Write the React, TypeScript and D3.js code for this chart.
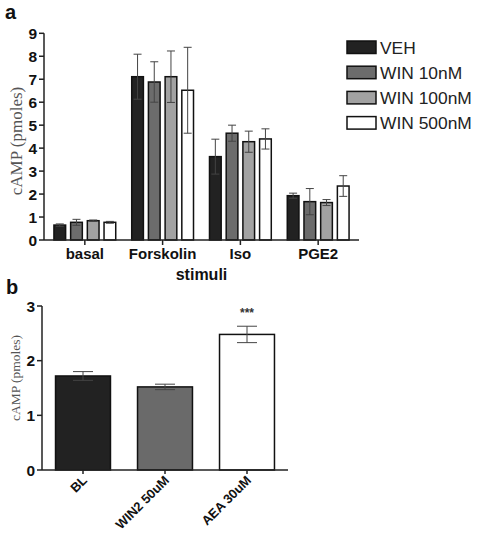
import React from "react";
import * as d3 from "d3";

const categories = ["basal", "Forskolin", "Iso", "PGE2"];
const seriesNames = ["VEH", "WIN 10nM", "WIN 100nM", "WIN 500nM"];
const vehMeans = [0.65, 7.11, 3.63, 1.93];
const win10Means = [0.77, 6.88, 4.65, 1.67];
const win100Means = [0.84, 7.11, 4.28, 1.63];
const win500Means = [0.77, 6.52, 4.4, 2.35];
const vehErr = [0.05, 0.98, 0.76, 0.11];
const win10Err = [0.13, 0.88, 0.35, 0.57];
const win100Err = [0.03, 1.12, 0.46, 0.13];
const win500Err = [0.04, 1.87, 0.44, 0.45];
const aTicks = [0, 1, 2, 3, 4, 5, 6, 7, 8, 9];

const bGroups = ["BL", "WIN2 50uM", "AEA 30uM"];
const bMeans = [1.72, 1.52, 2.48];
const bErr = [0.08, 0.05, 0.15];
const bTicks = [0, 1, 2, 3];

const seriesColors = ["#222222", "#6c6c6c", "#a2a2a2", "#ffffff"];
const bColors = ["#222222", "#6a6a6a", "#ffffff"];

const SANS = "'Liberation Sans', Arial, sans-serif";
const SERIF = "'Liberation Serif', 'Times New Roman', serif";

export default function App() {
  const means = [vehMeans, win10Means, win100Means, win500Means];
  const errs = [vehErr, win10Err, win100Err, win500Err];

  // Panel a scales
  const ax0 = 44, ax1 = 359;
  const ya = d3.scaleLinear().domain([0, 9]).range([240, 33.3]);
  const xa = d3.scalePoint<string>().domain(categories).range([ax0, ax1]).padding(0.525);
  const xin = d3.scaleBand<string>().domain(seriesNames).range([-33.4, 33.4]).paddingInner(0.3).paddingOuter(0.15);

  // Panel b scales
  const bx0 = 42, bx1 = 288;
  const yb = d3.scaleLinear().domain([0, 3]).range([470, 306]);
  const xb = d3.scaleBand<string>().domain(bGroups).range([bx0, bx1]).paddingInner(0.33).paddingOuter(0.165);

  const capA = 4;
  const capB = 10;

  return (
    <svg width={478} height={536} style={{ position: "absolute", left: 0, top: 0, background: "#fff" }}>
      {/* Panel a */}
      <text x={5} y={19} fontFamily={SANS} fontWeight="bold" fontSize={20} fill="#111">a</text>
      {categories.map((c, ci) =>
        seriesNames.map((s, si) => {
          const cx = (xa(c) as number) + (xin(s) as number);
          const w = xin.bandwidth();
          const m = means[si][ci];
          const e = errs[si][ci];
          const mid = cx + w / 2;
          return (
            <g key={c + s}>
              <rect x={cx} y={ya(m)} width={w} height={ya(0) - ya(m)} fill={seriesColors[si]} stroke="#111" strokeWidth={1.5} />
              <line x1={mid} x2={mid} y1={ya(m + e)} y2={ya(m - e)} stroke="#444" strokeWidth={1} />
              <line x1={mid - capA} x2={mid + capA} y1={ya(m + e)} y2={ya(m + e)} stroke="#444" strokeWidth={1} />
              <line x1={mid - capA} x2={mid + capA} y1={ya(m - e)} y2={ya(m - e)} stroke="#444" strokeWidth={1} />
            </g>
          );
        })
      )}
      <line x1={ax0} x2={ax0} y1={ya(9)} y2={ya(0)} stroke="#222" strokeWidth={1.5} />
      <line x1={ax0} x2={ax1} y1={ya(0)} y2={ya(0)} stroke="#222" strokeWidth={1.5} />
      {aTicks.map((t) => (
        <g key={t}>
          <line x1={ax0 - 5} x2={ax0} y1={ya(t)} y2={ya(t)} stroke="#222" strokeWidth={1.5} />
          <text x={ax0 - 7} y={ya(t)} dy="0.36em" textAnchor="end" fontFamily={SANS} fontWeight="bold" fontSize={15.5} fill="#111">{t}</text>
        </g>
      ))}
      {categories.map((c) => (
        <g key={c}>
          <line x1={xa(c)} x2={xa(c)} y1={ya(0)} y2={ya(0) + 5} stroke="#222" strokeWidth={1.5} />
          <text x={xa(c)} y={259} textAnchor="middle" fontFamily={SANS} fontWeight="bold" fontSize={15} fill="#111">{c}</text>
        </g>
      ))}
      <text x={(ax0 + ax1) / 2} y={280} textAnchor="middle" fontFamily={SANS} fontWeight="bold" fontSize={16} fill="#111">stimuli</text>
      <text transform={`translate(22,141) rotate(-90)`} textAnchor="middle" fontFamily={SERIF} fontSize={17} fill="#555">cAMP (pmoles)</text>

      {/* Legend */}
      {seriesNames.map((s, i) => (
        <g key={s} transform={`translate(347,${41 + i * 25.2})`}>
          <rect x={0} y={0} width={29} height={12.5} fill={seriesColors[i]} stroke="#111" strokeWidth={1.5} />
          <text x={33} y={12.8} fontFamily={SANS} fontSize={17.4} fill="#222">{s}</text>
        </g>
      ))}

      {/* Panel b */}
      <text x={6} y={294} fontFamily={SANS} fontWeight="bold" fontSize={20} fill="#111">b</text>
      {bGroups.map((g, i) => {
        const x = xb(g) as number;
        const w = xb.bandwidth();
        const mid = x + w / 2;
        const m = bMeans[i];
        const e = bErr[i];
        return (
          <g key={g}>
            <rect x={x} y={yb(m)} width={w} height={yb(0) - yb(m)} fill={bColors[i]} stroke="#111" strokeWidth={1.5} />
            <line x1={mid} x2={mid} y1={yb(m + e)} y2={yb(m - e)} stroke="#444" strokeWidth={1} />
            <line x1={mid - capB} x2={mid + capB} y1={yb(m + e)} y2={yb(m + e)} stroke="#444" strokeWidth={1} />
            <line x1={mid - capB} x2={mid + capB} y1={yb(m - e)} y2={yb(m - e)} stroke="#444" strokeWidth={1} />
          </g>
        );
      })}
      <line x1={bx0} x2={bx0} y1={yb(3)} y2={yb(0)} stroke="#222" strokeWidth={1.5} />
      <line x1={bx0} x2={bx1} y1={yb(0)} y2={yb(0)} stroke="#222" strokeWidth={1.5} />
      {bTicks.map((t) => (
        <g key={t}>
          <line x1={bx0 - 5} x2={bx0} y1={yb(t)} y2={yb(t)} stroke="#222" strokeWidth={1.5} />
          <text x={bx0 - 7} y={yb(t)} dy="0.36em" textAnchor="end" fontFamily={SANS} fontWeight="bold" fontSize={15.5} fill="#111">{t}</text>
        </g>
      ))}
      {bGroups.map((g) => {
        const cx = (xb(g) as number) + xb.bandwidth() / 2;
        return (
          <g key={g}>
            <line x1={cx} x2={cx} y1={yb(0)} y2={yb(0) + 4} stroke="#222" strokeWidth={1.5} />
            <text transform={`translate(${cx + 5},${yb(0) + 11}) rotate(-45)`} textAnchor="end" fontFamily={SANS} fontWeight="bold" fontSize={13} fill="#111">{g}</text>
          </g>
        );
      })}
      <text x={(xb("AEA 30uM") as number) + xb.bandwidth() / 2} y={317} textAnchor="middle" fontFamily={SANS} fontWeight="bold" fontSize={12} fill="#333">***</text>
      <text transform={`translate(20,378) rotate(-90)`} textAnchor="middle" fontFamily={SERIF} fontSize={13.5} fill="#555">cAMP (pmoles)</text>
    </svg>
  );
}
